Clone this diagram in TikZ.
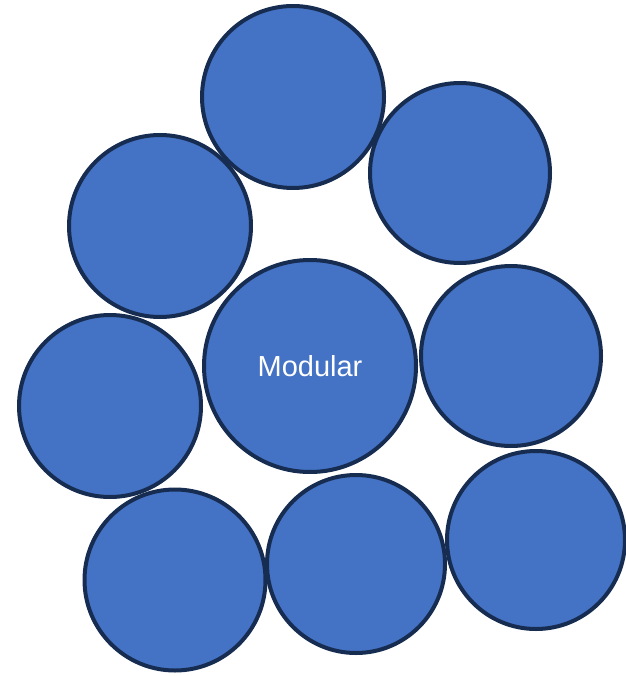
\documentclass[tikz,border=0pt]{standalone}
\usepackage{fontspec}
\setmainfont{Liberation Sans}
\definecolor{fillblue}{HTML}{4472C4}
\definecolor{edgenavy}{HTML}{172C51}
\begin{document}
\begin{tikzpicture}[x=1pt,y=-1pt,
  bubble/.style={circle,draw=edgenavy,fill=fillblue,line width=4pt,inner sep=0pt,text=white,font=\fontsize{29}{33}\selectfont}]
\useasboundingbox (0,0) rectangle (625,676);
\node[bubble,minimum size=182pt] (top) at (293,97) {};
\node[bubble,minimum size=180pt] (topright) at (460,173) {};
\node[bubble,minimum size=182pt] (leftup) at (160,226) {};
\node[bubble,minimum size=212pt] (center) at (310,366) {Modular};
\node[bubble,minimum size=180pt] (right) at (511,356) {};
\node[bubble,minimum size=182pt] (leftmid) at (110,406) {};
\node[bubble,minimum size=181pt] (botleft) at (175,580) {};
\node[bubble,minimum size=178pt] (botmid) at (356,564) {};
\node[bubble,minimum size=178pt] (botright) at (536,540) {};
\end{tikzpicture}
\end{document}
